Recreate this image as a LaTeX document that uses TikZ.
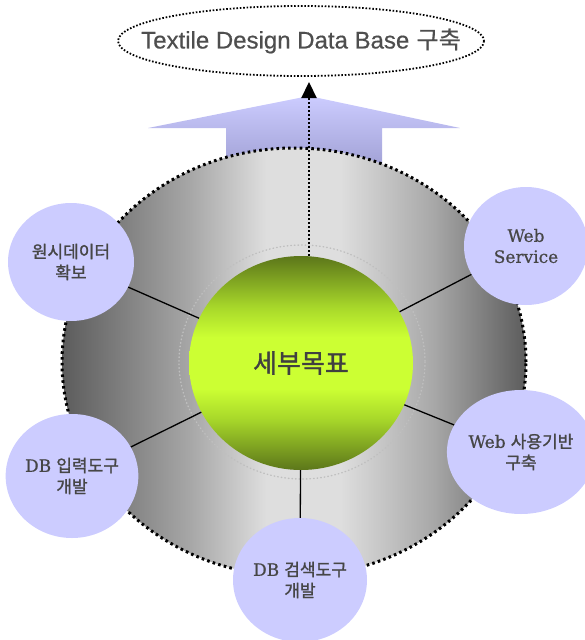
\documentclass[tikz,border=0pt]{standalone}
\usepackage{fontspec}
\usetikzlibrary{shapes.geometric,arrows.meta}
\newfontfamily\krf{Noto Sans CJK KR}[FakeBold=1.3]
\newfontfamily\krc{Noto Sans CJK KR}[FakeBold=1.2]
\newfontfamily\krt{Noto Sans CJK KR}[FakeBold=0.6]
\newfontfamily\serf{DejaVu Serif}[FakeBold=0.7]
\newfontfamily\sanf{Liberation Sans}[FakeBold=0.5]
\definecolor{lav}{HTML}{CCCCFF}
\definecolor{lavdk}{HTML}{8A8ABF}
\definecolor{txt}{HTML}{464646}
\definecolor{ttl}{HTML}{4E4E4E}
\definecolor{gdk}{HTML}{5C761A}
\definecolor{gmd}{HTML}{A8D82A}
\definecolor{gbr}{HTML}{CCFF33}
\definecolor{dk}{HTML}{5C5C5C}
\definecolor{dm}{HTML}{A8A8A8}
\definecolor{dl}{HTML}{DEDEDE}
\pgfdeclareverticalshading{greensh}{100bp}{color(0bp)=(gdk); color(25bp)=(gdk); color(37bp)=(gmd); color(44bp)=(gbr); color(56bp)=(gbr); color(63bp)=(gmd); color(75bp)=(gdk); color(100bp)=(gdk)}
\pgfdeclarehorizontalshading{disksh}{100bp}{color(0bp)=(dk); color(25bp)=(dk); color(39bp)=(dm); color(47bp)=(dl); color(55bp)=(dl); color(65bp)=(dm); color(75bp)=(dk); color(100bp)=(dk)}
\begin{document}
\begin{tikzpicture}[x=1pt,y=-1pt,
  sub/.style={ellipse, fill=lav, inner sep=0pt, align=center, text=txt,
    font=\fontsize{17}{21}\selectfont},
  spoke/.style={draw=black, line width=1.3pt},
]
\useasboundingbox (0,0) rectangle (585,640);
\clip (0,0) rectangle (585,640);
% big up arrow
\shade[top color=lav, bottom color=lavdk]
  (148,128) -- (309,96) -- (460,128) -- (382,128) -- (382,205) -- (226,205) -- (226,128) -- cycle;
% gray disk
\node[ellipse, minimum width=464pt, minimum height=428pt, inner sep=0pt,
  shading=disksh, draw=black, line width=3pt, dash pattern=on 2.6pt off 3.2pt] (disk) at (294,362) {};
% faint ring
\draw[black!25, line width=1.4pt, line cap=round, dash pattern=on 0.6pt off 3pt] (302,362) ellipse [x radius=123, y radius=117];
% centre
\node[ellipse, minimum width=224pt, minimum height=214pt, inner sep=0pt,
  shading=greensh, text=black!75, font=\krc\fontsize{26}{30}\selectfont] (g) at (301,363) {세부목표};
% sub goals
\node[sub, minimum width=126pt, minimum height=118pt] (c1) at (71,262) {\krf 원시데이터\\\krf 확보};
\node[sub, minimum width=124pt, minimum height=118pt] (c2) at (526,246) {\serf Web\\\serf Service};
\node[sub, minimum width=128pt, minimum height=124pt] (c3) at (72,476) {{\serf DB} {\krf 입력도구}\\\krf 개발};
\node[sub, minimum width=128pt, minimum height=124pt] (c4) at (521,452) {{\serf Web} {\krf 사용기반}\\\krf 구축};
\node[sub, minimum width=134pt, minimum height=124pt] (c5) at (300,580) {{\serf DB} {\krf 검색도구}\\\krf 개발};
% spokes
\draw[spoke] (g) -- (c1);
\draw[spoke] (g) -- (c2);
\draw[spoke] (g) -- (c3);
\draw[spoke] (g) -- (c4);
\draw[spoke] (g) -- (c5);
% title
\node[inner sep=0pt, text=ttl, font=\fontsize{24}{28}\selectfont] (t) at (301,41) {{\sanf Textile Design Data Base} {\krt 구축}};
\draw[line width=1.8pt, dash pattern=on 1.6pt off 1.8pt] (t.center) ellipse [x radius=183, y radius=35];
% dotted arrow
\coordinate (tip) at (309,82);
\draw[line width=2.2pt, dash pattern=on 2pt off 2pt, -{Triangle[length=16pt,width=15pt]}] (g.north -| tip) -- (tip);
\end{tikzpicture}
\end{document}
